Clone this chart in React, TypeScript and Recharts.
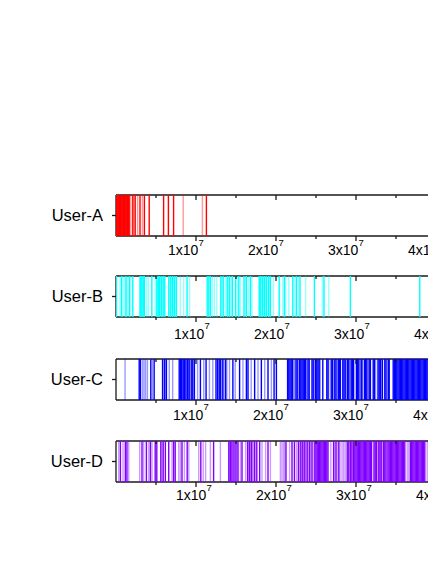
import React from 'react';
import { ScatterChart, Scatter, XAxis, YAxis } from 'recharts';

// event positions in units of 10^6
const userAStrong = [0.05, 0.15, 0.25, 0.35, 0.45, 0.55, 0.65, 0.75, 0.85, 0.95, 1.05, 1.15, 1.25, 1.35, 1.45, 1.55, 1.65, 2.1, 2.4, 3.0, 3.55, 4.15, 5.95, 6.55, 7.2, 11.3];
const userALight = [1.85, 2.25, 2.7, 3.3, 8.4, 10.8];

const userBStrong = [0.05, 0.7, 1.25, 1.67, 2.1, 3.0, 3.1, 3.25, 3.4, 3.55, 4.48, 5.1, 5.3, 5.45, 5.7, 5.9, 6.1, 6.6, 6.85, 7.05, 7.3, 7.55, 8.88, 11.4, 11.6, 11.8, 13.1, 13.4, 13.9, 14.2, 14.55, 14.95, 15.35, 16.0, 16.3, 16.8, 17.9, 18.1, 18.3, 18.55, 18.8, 19.05, 19.3, 20.4, 21.05, 22.1, 22.55, 23.0, 24.8, 26.0, 29.3, 37.97, 39.65];
const userBLight = [0.5, 0.9, 1.1, 1.4, 1.84, 3.15, 3.5, 3.85, 4.05, 4.9, 5.2, 5.6, 6.0, 6.75, 7.2, 7.45, 8.04, 8.46, 9.2, 12.05, 12.3, 12.6, 13.25, 13.65, 14.05, 14.4, 15.15, 15.55, 16.15, 16.55, 17.0, 18.0, 18.45, 18.7, 19.2, 19.68, 20.85, 21.2, 21.6, 22.35, 22.8, 23.7, 25.8, 26.6];

const userCStrong = [2.9, 3.05, 4.35, 4.77, 5.82, 6.05, 6.3, 7.9, 8.05, 8.2, 8.4, 8.55, 8.75, 8.95, 9.15, 9.4, 9.6, 9.8, 10.55, 11.26, 12.5, 12.7, 12.9, 13.05, 13.35, 13.7, 14.61, 15.45, 16.3, 16.5, 17.33, 18.17, 19.0, 19.76, 20.05,
  21.45, 21.6, 21.75, 21.9, 22.05, 22.5, 22.65, 22.95, 23.1, 23.25, 23.4, 23.55, 23.7, 24.0, 24.15,
  24.5, 24.65, 24.95, 25.1, 25.25, 25.4, 25.85, 26.35, 26.5, 26.9, 27.05, 27.35, 27.5, 27.8, 27.95, 28.05,
  28.35, 28.5, 28.65, 28.95, 29.1, 29.4, 29.55, 29.7, 30.05, 30.2, 30.35, 30.65, 30.75, 31.05, 31.2, 31.35, 31.65, 31.8,
  32.15, 32.3, 32.75, 32.9, 33.05, 33.3, 33.6, 33.75, 34.05, 34.15,
  34.65, 34.8, 34.95, 35.1, 35.25, 35.4, 35.55, 35.7, 35.85, 36.0, 36.15, 36.3, 36.45, 36.6, 36.75, 36.9, 37.05, 37.2, 37.35, 37.5,
  37.65, 37.8, 37.95, 38.1, 38.25, 38.4, 38.55, 38.7, 38.85, 39.0, 39.15, 39.3, 39.45, 39.6, 39.75, 39.9, 40.05, 40.2];
const userCLight = [1.13, 3.3, 3.5, 3.7, 3.93, 4.56, 6.2, 6.66, 7.08, 8.1, 8.3, 8.65, 9.05, 9.5, 10.2, 10.97, 11.68, 12.1, 13.2, 13.5, 13.85, 14.19, 14.9, 15.87, 16.9, 17.75, 18.59, 19.42, 22.2, 22.35, 22.8, 23.85, 24.8, 25.55, 26.6, 27.2, 27.65, 28.8, 29.25, 30.5, 31.5, 32.45, 33.2, 33.9];

const userDStrong = [0.55, 1.17, 1.37, 3.25, 3.8, 4.3, 4.9, 5.1, 5.6, 5.9, 6.17, 6.59, 7.2, 7.4, 8.25, 8.9, 10.6, 12.2, 14.1, 14.3, 14.5, 14.75, 15.0, 15.25, 15.75, 16.45, 16.7, 16.95, 17.3, 17.6, 17.96, 19.0,
  21.25, 22.0, 22.3, 22.8, 23.1, 23.35, 23.6, 23.9, 24.2, 24.5, 24.85, 25.0, 25.15, 25.3, 25.45, 25.6, 25.75, 25.9, 26.05, 26.2, 26.35, 26.5,
  27.2, 27.5, 27.85, 28.9, 29.1, 29.3, 29.5, 29.7, 29.85, 30.0, 30.15, 30.3, 30.45, 30.6, 30.75, 30.9, 31.05, 31.2, 31.35, 31.5, 31.65, 31.8, 31.95,
  32.25, 32.4, 32.55, 32.85, 33.0, 33.15, 33.45, 33.6, 33.75, 34.0, 34.15, 34.3, 34.45, 34.6, 34.75, 34.9, 35.05, 35.2, 35.35, 35.5, 35.65, 35.8, 35.95, 36.1,
  36.8, 36.95, 37.1, 37.25, 37.4, 37.55, 37.7, 37.85, 38.0, 38.15, 38.3, 38.45, 38.6, 39.2];
const userDLight = [0.34, 0.88, 1.59, 2.96, 3.46, 4.09, 4.5, 5.75, 7.0, 7.84, 8.05, 8.55, 9.1, 10.34, 10.9, 11.2, 11.8, 13.05, 14.2, 14.4, 14.65, 14.9, 15.15, 15.55, 16.2, 16.55, 16.85, 17.1, 17.45, 18.25, 18.7, 19.3,
  20.55, 20.75, 20.95, 21.1, 21.7, 22.55, 22.95, 23.25, 23.5, 23.75, 24.05, 24.35, 24.65, 26.85, 27.35, 27.65, 28.0, 28.25, 28.45, 28.65, 29.0, 29.4, 32.7, 33.3, 33.9, 36.4, 36.6, 38.9];

const userNames = ['User-A', 'User-B', 'User-C', 'User-D'];
const xTicks = [5, 10, 15, 20, 25, 30, 35, 40, 45, 50];

const UNIT = 1e6;
const X_MAX = 5e7;
const PLOT_H = 41;
const FONT = '"Liberation Sans", Arial, sans-serif';
const AXIS = { stroke: '#1a1a1a', strokeWidth: 1.3 };

const toPoints = (arr: number[]) => arr.map(m => ({ x: m * UNIT, y: 0.5 }));

const panels = [
  { name: userNames[0], color: '#ff0000', strong: userAStrong, light: userALight, top: 177, labelDx: -28, labelDy: 19 },
  { name: userNames[1], color: '#00ffff', strong: userBStrong, light: userBLight, top: 258, labelDx: -22, labelDy: 21.5 },
  { name: userNames[2], color: '#0000ff', strong: userCStrong, light: userCLight, top: 341, labelDx: -23, labelDy: 19.5 },
  { name: userNames[3], color: '#8000ff', strong: userDStrong, light: userDLight, top: 423, labelDx: -20, labelDy: 18 },
];

const Panel = ({ name, color, strong, light, top, labelDx, labelDy }: any) => {
  const eventLine = (opacity: number) => (props: any) => {
    const { cx, cy } = props;
    return (
      <line x1={cx} x2={cx} y1={cy - PLOT_H / 2} y2={cy + PLOT_H / 2}
        stroke={color} strokeOpacity={opacity} strokeWidth={1.4} />
    );
  };

  const bottomTick = (props: any) => {
    const { x, y, payload } = props;
    const major = payload.value % 1e7 === 0;
    const len = major ? 5 : 3;
    const yTop = y - PLOT_H;
    return (
      <g>
        <line x1={x} x2={x} y1={y} y2={y + len} stroke="#1a1a1a" strokeWidth={1.3} />
        <line x1={x} x2={x} y1={yTop} y2={yTop + len} stroke="#1a1a1a" strokeWidth={1.3} />
        {major && (
          <text x={x + labelDx} y={y + labelDy} fontFamily={FONT} fontSize={14} fill="#000" textAnchor="start">
            {payload.value / 1e7}x10
            <tspan dy={-9.5} fontSize={9.5}>7</tspan>
          </text>
        )}
      </g>
    );
  };

  const leftTick = (props: any) => {
    const { x, y } = props;
    return (
      <g>
        <line x1={x - 4} x2={x} y1={y} y2={y} stroke="#1a1a1a" strokeWidth={1.3} />
        <text x={x - 13} y={y + 5.7} fontFamily={FONT} fontSize={16.5} fill="#000" textAnchor="end">{name}</text>
      </g>
    );
  };

  return (
    <div style={{ position: 'absolute', left: 0, top }}>
      <ScatterChart width={508} height={81} margin={{ top: 9, right: 0, bottom: 0, left: 0 }}>
        <Scatter xAxisId="b" data={toPoints(light)} shape={eventLine(0.4)} isAnimationActive={false} />
        <Scatter xAxisId="b" data={toPoints(strong)} shape={eventLine(1)} isAnimationActive={false} />
        <XAxis xAxisId="b" type="number" dataKey="x" domain={[0, X_MAX]} allowDataOverflow
          ticks={xTicks.map(t => t * UNIT)} interval={0} orientation="bottom" height={30}
          tickSize={0} tickMargin={0} tickLine={false} axisLine={AXIS} tick={bottomTick} />
        <XAxis xAxisId="t" type="number" dataKey="x" domain={[0, X_MAX]} allowDataOverflow
          orientation="top" height={1} tick={false} tickLine={false} axisLine={AXIS} />
        <YAxis type="number" dataKey="y" domain={[0, 1]} ticks={[0.5]} width={108}
          tickSize={0} tickMargin={0} tickLine={false} axisLine={AXIS} tick={leftTick} />
      </ScatterChart>
    </div>
  );
};

export default function App() {
  return (
    <div style={{ position: 'relative', width: 428, height: 548, overflow: 'hidden', background: '#fff' }}>
      {panels.map(p => <Panel key={p.name} {...p} />)}
    </div>
  );
}
